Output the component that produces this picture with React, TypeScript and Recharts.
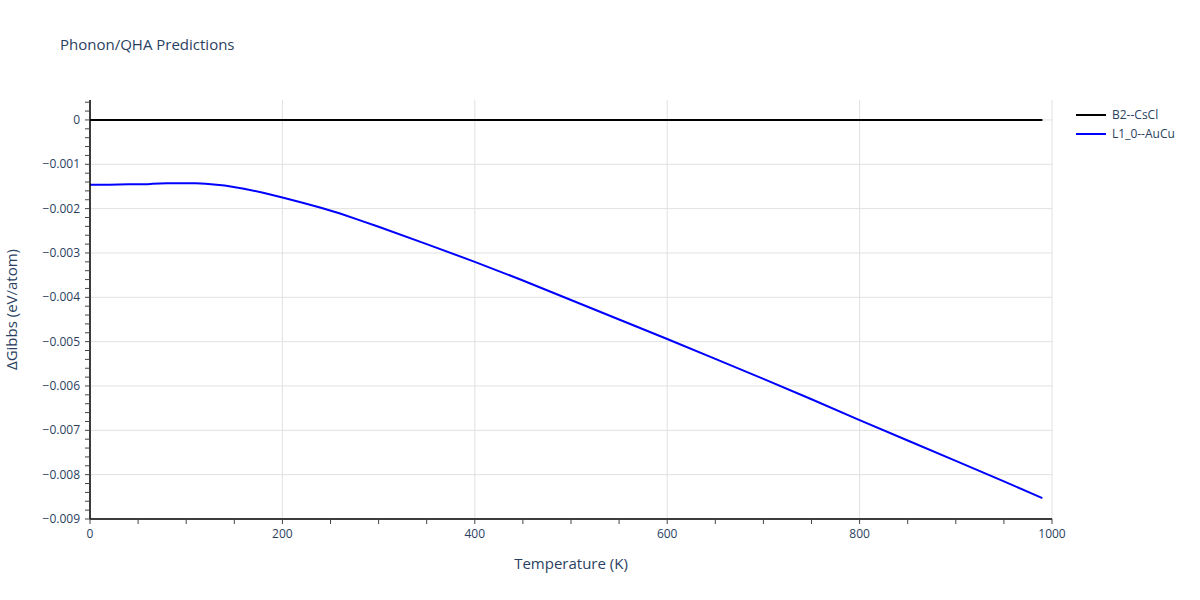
import { LineChart, Line, XAxis, YAxis, CartesianGrid, Label } from 'recharts';

// temperature grid (K)
const temps = [0, 20, 40, 60, 65, 80, 100, 110, 120, 140, 160, 180, 200, 220, 240, 260, 280, 300, 350, 400, 450, 500, 550, 600, 650, 700, 750, 800, 850, 900, 950, 990];
// ΔGibbs values (eV/atom)
const b2CsCl = temps.map(() => 0);
const l10AuCu = [-0.00146, -0.00146, -0.00145, -0.00145, -0.00144, -0.00143, -0.00143, -0.00143, -0.00144, -0.00148, -0.00155, -0.00164, -0.00175, -0.00186, -0.00198, -0.00211, -0.00226, -0.00241, -0.0028, -0.0032, -0.00362, -0.00406, -0.0045, -0.00494, -0.00539, -0.00584, -0.0063, -0.00677, -0.00723, -0.00769, -0.00815, -0.00853];

const seriesNames = ['B2--CsCl', 'L1_0--AuCu'];
const seriesColors = ['#000000', '#0000ff'];

const xMajor = [0, 200, 400, 600, 800, 1000];
const yMajor = [0, -0.001, -0.002, -0.003, -0.004, -0.005, -0.006, -0.007, -0.008, -0.009];

const xTicks: number[] = [];
for (let i = 0; i <= 20; i++) xTicks.push(i * 50);
const yTicks: number[] = [];
for (let i = -45; i <= 2; i++) yTicks.push(Math.round(i * 2) / 10000);

const b2Data = temps.map((t, i) => ({ t, v: b2CsCl[i] }));
const auCuData = temps.map((t, i) => ({ t, v: l10AuCu[i] }));

const font = '"Open Sans", sans-serif';
const txt = '#2a3f5f';

const isMajorY = (v: number) => Math.abs(v * 1000 - Math.round(v * 1000)) < 1e-6;
const fmtY = (v: number) => {
  if (Math.abs(v) < 1e-12) return '0';
  const s = Math.abs(v).toFixed(3);
  return v < 0 ? '\u2212' + s : s;
};

const YTick = (p: any) => {
  const v = p.payload.value;
  if (!isMajorY(v)) return null;
  return (
    <text x={p.x - 3} y={p.y} dy={4} textAnchor="end" fontSize={12} fill={txt} fontFamily={font}>
      {fmtY(v)}
    </text>
  );
};

const XTick = (p: any) => {
  const v = p.payload.value;
  if (v % 200 !== 0) return null;
  return (
    <text x={p.x} y={p.y + 12} textAnchor="middle" fontSize={12} fill={txt} fontFamily={font}>
      {v}
    </text>
  );
};

const LegendBox = () => (
  <div style={{ position: 'absolute', left: 1076, top: 105, fontFamily: font, fontSize: 12, color: txt }}>
    {seriesNames.map((n, i) => (
      <div key={n} style={{ display: 'flex', alignItems: 'center', height: 19 }}>
        <svg width={30} height={6} style={{ marginRight: 6 }}>
          <line x1={0} y1={3} x2={30} y2={3} stroke={seriesColors[i]} strokeWidth={2} />
        </svg>
        <span>{n}</span>
      </div>
    ))}
  </div>
);

export default function App() {
  return (
    <div style={{ position: 'absolute', left: 0, top: 0, width: 1200, height: 600, background: '#fff', fontFamily: font }}>
      <div style={{ position: 'absolute', left: 60, top: 34, fontSize: 15, color: txt }}>Phonon/QHA Predictions</div>
      <LineChart width={1200} height={600} margin={{ top: 100, right: 148, bottom: 51, left: 0 }}>
        <CartesianGrid stroke="#e1e1e1" horizontalValues={yMajor} verticalValues={xMajor} />
        <XAxis
          type="number"
          dataKey="t"
          domain={[0, 1000]}
          ticks={xTicks}
          interval={0}
          height={30}
          tick={<XTick />}
          tickSize={5}
          tickLine={{ stroke: '#444' }}
          axisLine={{ stroke: '#000', strokeWidth: 1.5 }}
          allowDataOverflow
        >
          <Label value="Temperature (K)" position="bottom" offset={9} style={{ fontSize: 15, fill: txt, fontFamily: font }} />
        </XAxis>
        <YAxis
          type="number"
          domain={[-0.009, 0.00045]}
          ticks={yTicks}
          interval={0}
          width={90}
          tick={<YTick />}
          tickSize={5}
          tickLine={{ stroke: '#444' }}
          axisLine={{ stroke: '#000', strokeWidth: 1.5 }}
          allowDataOverflow
        >
          <Label
            value="ΔGibbs (eV/atom)"
            angle={-90}
            position="insideLeft"
            offset={12}
            style={{ fontSize: 15, fill: txt, fontFamily: font, textAnchor: 'middle' }}
          />
        </YAxis>
        <Line data={b2Data} dataKey="v" name={seriesNames[0]} stroke={seriesColors[0]} strokeWidth={2} dot={false} isAnimationActive={false} type="linear" />
        <Line data={auCuData} dataKey="v" name={seriesNames[1]} stroke={seriesColors[1]} strokeWidth={2} dot={false} isAnimationActive={false} type="linear" />
      </LineChart>
      <LegendBox />
    </div>
  );
}
